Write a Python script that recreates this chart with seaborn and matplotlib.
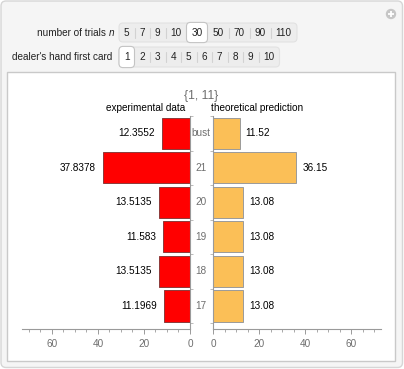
import matplotlib
matplotlib.use("Agg")
import matplotlib.pyplot as plt
import matplotlib.transforms as mtransforms
from matplotlib.patches import FancyBboxPatch, Rectangle, Circle
from matplotlib.ticker import MultipleLocator
import seaborn as sns
import pandas as pd

# ---------------- data ----------------
categories = ["bust", "21", "20", "19", "18", "17"]
experimental = [12.3552, 37.8378, 13.5135, 11.583, 13.5135, 11.1969]
experimental_labels = ["12.3552", "37.8378", "13.5135", "11.583", "13.5135", "11.1969"]
theoretical = [11.52, 36.15, 13.08, 13.08, 13.08, 13.08]
theoretical_labels = ["11.52", "36.15", "13.08", "13.08", "13.08", "13.08"]
chart_title = "{1, 11}"
left_title = "experimental data"
right_title = "theoretical prediction"
x_ticks = [0, 20, 40, 60]
trial_options = ["5", "7", "9", "10", "30", "50", "70", "90", "110"]
trial_selected = "30"
card_options = ["1", "2", "3", "4", "5", "6", "7", "8", "9", "10"]
card_selected = "1"

# ---------------- style ----------------
sns.set_theme(style="white")
plt.rcParams["font.family"] = ["Liberation Sans", "DejaVu Sans"]
FS = 7.2
GRAY_TXT = "#6e6e6e"
AX_GRAY = "#9a9a9a"
RED = "#ff0000"
ORANGE = "#fbbf57"

W, H = 404, 369
fig = plt.figure(figsize=(W / 100, H / 100), dpi=100)
fig.patch.set_facecolor("white")

# background / decor axes in pixel coordinates
bg = fig.add_axes([0, 0, 1, 1], zorder=0)
bg.set_xlim(0, W)
bg.set_ylim(H, 0)
bg.axis("off")

bg.add_patch(FancyBboxPatch((1, 1), W - 2.5, H - 2.5,
                            boxstyle="round,pad=0,rounding_size=5",
                            facecolor="#f5f5f5", edgecolor="#d6d6d6", lw=1))
bg.add_patch(Rectangle((7, 72), 388, 289, facecolor="white",
                       edgecolor="#c9c9c9", lw=1))

# plus icon
bg.add_patch(Circle((391, 14), 5.2, facecolor="#c6c6c6", edgecolor="none"))
bg.plot([388, 394], [14, 14], color="white", lw=1.3, solid_capstyle="butt")
bg.plot([391, 391], [11, 17], color="white", lw=1.3, solid_capstyle="butt")


def control_row(label, options, selected, y_top, height, italic_suffix=None):
    x0 = 119
    widths = [10 + 5.5 * len(o) for o in options]
    total = sum(widths)
    cy = y_top + height / 2
    bg.add_patch(FancyBboxPatch((x0, y_top), total, height,
                                boxstyle="round,pad=0,rounding_size=4",
                                facecolor="#ededed", edgecolor="#e2e2e2", lw=0.8))
    x = x0
    sel_idx = options.index(selected)
    for i, (o, w) in enumerate(zip(options, widths)):
        if o == selected:
            bg.add_patch(FancyBboxPatch((x, y_top - 0.6), w, height + 1.2,
                                        boxstyle="round,pad=0,rounding_size=4",
                                        facecolor="white", edgecolor="#c4c4c4",
                                        lw=0.8, zorder=3))
        bg.text(x + w / 2, cy, o, ha="center", va="center", fontsize=FS,
                color="#222222", zorder=4)
        if i < len(options) - 1 and i != sel_idx and i + 1 != sel_idx:
            bg.plot([x + w, x + w], [cy - 5, cy + 5], color="#d2d2d2", lw=0.8)
        x += w
    if italic_suffix:
        bg.text(106, cy, label, ha="right", va="center", fontsize=FS,
                color="#222222")
        bg.text(108.5, cy, italic_suffix, ha="left", va="center",
                fontsize=FS, color="#222222", style="italic")
    else:
        bg.text(112, cy, label, ha="right", va="center", fontsize=FS,
                color="#222222")


control_row("number of trials", trial_options, trial_selected, 23, 19,
            italic_suffix="n")
control_row("dealer's hand first card", card_options, card_selected, 47, 20)

# ---------------- chart axes ----------------
ax_bottom = (H - 329) / H
ax_height = (329 - 116) / H
axL = fig.add_axes([22 / W, ax_bottom, 168 / W, ax_height], zorder=2)
axR = fig.add_axes([213 / W, ax_bottom, 168 / W, ax_height], zorder=2)

df = pd.DataFrame({"category": categories, "experimental": experimental,
                   "theoretical": theoretical})

sns.barplot(data=df, x="experimental", y="category", orient="h", color=RED,
            saturation=1, width=0.9, edgecolor="#8c3a3a", linewidth=0.7,
            ax=axL)
sns.barplot(data=df, x="theoretical", y="category", orient="h", color=ORANGE,
            saturation=1, width=0.9, edgecolor="#9a9a9a", linewidth=0.7,
            ax=axR)

n = len(categories)
for ax, side in ((axL, "right"), (axR, "left")):
    ax.set_facecolor("none")
    ax.set_xlim(0, 73)
    ax.set_ylim(n - 1 + 0.665, -0.49)
    ax.set_xlabel("")
    ax.set_ylabel("")
    for s in ax.spines.values():
        s.set_visible(False)
    ax.spines["bottom"].set_visible(True)
    ax.spines[side].set_visible(True)
    ax.spines["bottom"].set_color(AX_GRAY)
    ax.spines[side].set_color(AX_GRAY)
    ax.spines["bottom"].set_linewidth(0.8)
    ax.spines[side].set_linewidth(0.8)
    ax.set_xticks(x_ticks)
    ax.xaxis.set_minor_locator(MultipleLocator(5))
    ax.tick_params(axis="x", which="major", direction="out", length=3.5,
                   width=0.7, color=AX_GRAY, labelsize=FS,
                   labelcolor=GRAY_TXT, pad=3.5, bottom=True)
    ax.tick_params(axis="x", which="minor", direction="out", length=2.2,
                   width=0.6, color=AX_GRAY, bottom=True)
    ax.set_yticks([])
    ax.set_yticks([i - 0.5 for i in range(n + 1)], minor=True)
    ax.yaxis.set_ticks_position(side)
    ax.tick_params(axis="y", which="minor", direction="out", length=2.2,
                   width=0.6, color="#b0b0b0", left=(side == "left"),
                   right=(side == "right"))
    ax.grid(False)

axL.invert_xaxis()

# value labels
for i, (v, lab) in enumerate(zip(experimental, experimental_labels)):
    axL.annotate(lab, (v, i), xytext=(-5, 0), textcoords="offset points",
                 ha="right", va="center", fontsize=FS, color="black")
for i, (v, lab) in enumerate(zip(theoretical, theoretical_labels)):
    axR.annotate(lab, (v, i), xytext=(4.5, 0), textcoords="offset points",
                 ha="left", va="center", fontsize=FS, color="black")

# center category labels
blend = mtransforms.blended_transform_factory(bg.transData, axL.transData)
for i, c in enumerate(categories):
    fig.text(201, i, c, transform=blend, ha="center", va="center",
             fontsize=FS, color=GRAY_TXT, zorder=5)

# titles
bg.text(201, 96, chart_title, ha="center", va="center", fontsize=8.7,
        color=GRAY_TXT)
bg.text(185, 108, left_title, ha="right", va="center", fontsize=FS,
        color="black")
bg.text(211, 108, right_title, ha="left", va="center", fontsize=FS,
        color="black")

fig.savefig("out.png", dpi=100)
